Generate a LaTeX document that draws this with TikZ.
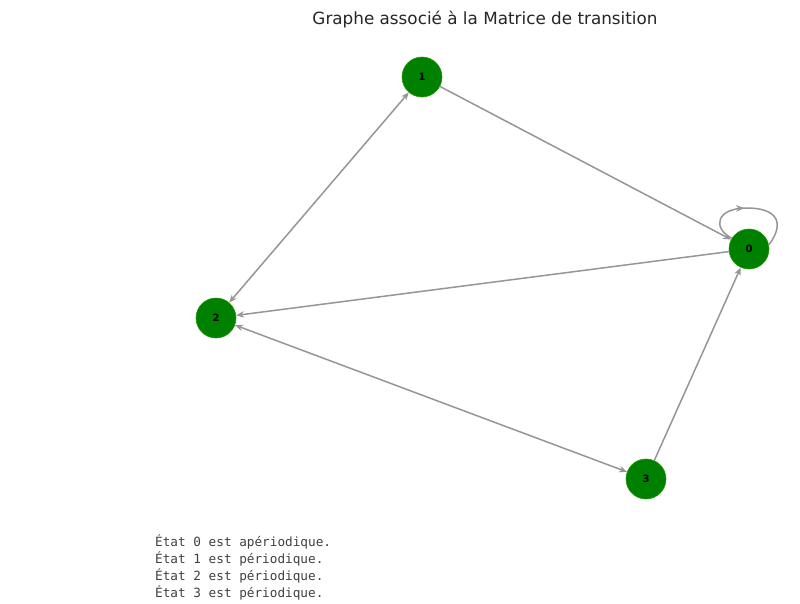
\documentclass[tikz,border=0pt]{standalone}
\usepackage{fontspec}
\setmainfont{DejaVu Sans}
\newfontfamily\monofnt{DejaVu Sans Mono}
\usetikzlibrary{arrows.meta,decorations.markings}
\definecolor{nodegreen}{RGB}{0,128,0}
\definecolor{edgegray}{RGB}{150,150,150}
\tikzset{
  state/.style={circle,fill=nodegreen,draw=nodegreen!80!lime,line width=0.6pt,minimum size=40pt,inner sep=0pt,font=\fontsize{10}{10}\selectfont\bfseries},
  edge/.style={draw=edgegray,line width=1.5pt,-{Stealth[length=8pt,width=6.5pt]}},
  bedge/.style={draw=edgegray,line width=1.5pt,{Stealth[length=8pt,width=6.5pt]}-{Stealth[length=8pt,width=6.5pt]}},
  monotext/.style={font=\monofnt\fontsize{12.7}{17}\selectfont,text=black!75,anchor=west,inner sep=0pt}
}
\begin{document}
\begin{tikzpicture}[x=1pt,y=-1pt]
\useasboundingbox[fill=white] (0,0) rectangle (800,603);
\node[font=\fontsize{16.8}{18}\selectfont,text=black!85] (title) at (485,20) {Graphe associé à la Matrice de transition};
\node[state] (n0) at (749,249) {0};
\node[state] (n1) at (422,77) {1};
\node[state] (n2) at (216,318) {2};
\node[state] (n3) at (646,479) {3};
\draw[edge] (n1) -- (n0);
\draw[bedge] (n1) -- (n2);
\draw[edge] (n0) -- (n2);
\draw[bedge] (n2) -- (n3);
\draw[edge] (n3) -- (n0);
\draw[draw=edgegray,line width=1.5pt,
  decoration={markings,mark=at position 0.45 with {\arrow{Stealth[length=8pt,width=6.5pt]}}},postaction={decorate}]
  (n0.148) .. controls (712,228) and (716,208) .. (747,208)
  .. controls (776,208) and (786,222) .. (n0.12);
\node[monotext] (l0) at (155,542) {État 0 est apériodique.};
\node[monotext] (l1) at (155,559) {État 1 est périodique.};
\node[monotext] (l2) at (155,576) {État 2 est périodique.};
\node[monotext] (l3) at (155,593) {État 3 est périodique.};
\end{tikzpicture}
\end{document}
